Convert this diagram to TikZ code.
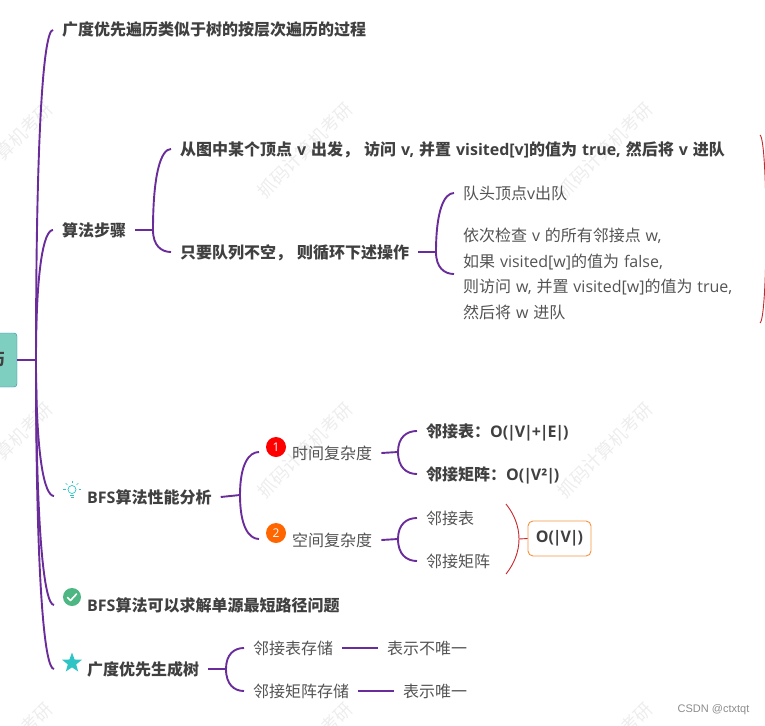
\documentclass[tikz,border=0pt]{standalone}
\usepackage{fontspec}
\setmainfont{Noto Sans CJK SC}[WordSpace=1.35]
\newfontfamily\lat{Open Sans}
\newfontfamily\signfont{Liberation Sans}
\usetikzlibrary{calc,shapes.geometric}
\definecolor{branchpurple}{HTML}{6A2C9A}
\definecolor{textgray}{HTML}{404040}
\definecolor{rootteal}{HTML}{7FCFC0}
\definecolor{rootblue}{HTML}{2E86AB}
\definecolor{bracered}{HTML}{C8282D}
\definecolor{boxorange}{HTML}{F39241}
\definecolor{okgreen}{HTML}{4CB782}
\definecolor{starteal}{HTML}{2EC4C6}
\tikzset{
  branch/.style={draw=branchpurple, line width=1.9pt},
  redline/.style={draw=bracered, line width=0.9pt},
  boldtext/.style={anchor=west, inner xsep=9pt, inner ysep=0pt, text height=15pt, text depth=3pt, text=textgray, font=\fontsize{16}{16}\selectfont\bfseries},
  plaintext/.style={anchor=west, inner xsep=9pt, inner ysep=0pt, text height=15pt, text depth=3pt, text=textgray!90, font=\fontsize{16}{16}\selectfont},
  numdot/.style={circle, inner sep=0pt, minimum size=20pt, text=white, font=\lat\fontsize{12}{12}\selectfont},
  watermark/.style={rotate=45, text=black!7, font=\fontsize{18}{18}\selectfont}
}
% curve from a junction up or down to the start of a child
\newcommand{\branchcurve}[2]{
  \draw[branch] (#1) .. controls ($(#1)!.7!(#1 |- #2)$) and ($(#2)!.55!(#1 |- #2)$) .. (#2);
}
% the bars of the O(...) labels sit closer than the font sets them
\newcommand{\vb}{\kern-.07em|\kern-.07em}
\begin{document}
\begin{tikzpicture}[x=1pt,y=-1pt]
\path[use as bounding box] (0,0) rectangle (765,725);
\clip (0,0) rectangle (765,725);
% Watermark grid
\foreach \wx in {5,305,605}
  \foreach \wy in {150,450,750}
    \node[watermark] (wm\wx\wy) at (\wx,\wy) {抓码计算机考研};
% Root, cut by the left edge
\node[draw=rootblue, fill=rootteal, rounded corners=3pt, minimum width=40pt, minimum height=54pt, inner sep=0pt,
  text=textgray, font=\fontsize{16}{16}\selectfont\bfseries] (root) at (-3,360) {历};
\coordinate (rootj) at (36,360);
% First level
\node[boldtext] (intro) at (53,30) {广度优先遍历类似于树的按层次遍历的过程};
\node[boldtext] (steps) at (53,230) {算法步骤};
\coordinate (perf) at (54,496);
\node[boldtext] (perft) at (78,497) {{\lat BFS}算法性能分析};
\coordinate (short) at (54,605);
\node[boldtext] (shortt) at (78,605) {{\lat BFS}算法可以求解单源最短路径问题};
\coordinate (tree) at (54,669);
\node[boldtext] (treet) at (78,669) {广度优先生成树};
\draw[branch, line width=2.2pt] (root.east) -- (rootj);
\branchcurve{rootj}{intro.west}
\branchcurve{rootj}{steps.west}
\branchcurve{rootj}{perf}
\branchcurve{rootj}{short}
\branchcurve{rootj}{tree}
% Algorithm steps
\node[boldtext] (visit) at (171,149) {从图中某个顶点 {\lat v} 出发， 访问 {\lat v,} 并置 {\lat visited[v]}的值为 {\lat true,} 然后将 {\lat v} 进队};
\node[boldtext] (loop) at (171,252) {只要队列不空， 则循环下述操作};
\coordinate (stepsj) at (153,230);
\draw[branch] (steps.east) -- (stepsj);
\branchcurve{stepsj}{visit.west}
\branchcurve{stepsj}{loop.west}
\node[plaintext] (deq) at (454,193) {队头顶点{\lat v}出队};
\node[plaintext, align=left, text height=, text depth=, font=\fontsize{16}{25.5}\selectfont] (check) at (454,274) {依次检查 {\lat v} 的所有邻接点 {\lat w,}\\如果 {\lat visited[w]}的值为 {\lat false,}\\则访问 {\lat w,} 并置 {\lat visited[w]}的值为 {\lat true,}\\然后将 {\lat w} 进队};
\coordinate (loopj) at (436,252);
\draw[branch] (loop.east) -- (loopj);
\branchcurve{loopj}{deq.west}
\branchcurve{loopj}{check.west}
% Red bracket at the right edge
\coordinate (rba) at (760,135);
\coordinate (rbb) at (760,323);
\draw[redline] (rba) .. controls (768,140) and (768,318) .. (rbb);
% Performance
\coordinate (perfj) at (240,495);
\draw[branch] (perft.east) -- (perfj);
\coordinate (time) at (259,452);
\coordinate (space) at (259,539);
\branchcurve{perfj}{time}
\branchcurve{perfj}{space}
\node[numdot, fill=red] (one) at (276,447) {1};
\node[numdot, fill=orange!80!red] (two) at (276,533) {2};
\node[plaintext] (timet) at (283,453) {时间复杂度};
\node[plaintext] (spacet) at (283,540) {空间复杂度};
\coordinate (timej) at (398,452);
\coordinate (spacej) at (398,539);
\draw[branch] (timet.east) -- (timej);
\draw[branch] (spacet.east) -- (spacej);
\node[boldtext] (ta) at (417,431) {邻接表：{\lat O(\vb V\vb+\vb E\vb)}};
\node[boldtext] (tb) at (417,474) {邻接矩阵：{\lat O(\vb V²\vb)}};
\node[plaintext] (sa) at (417,518) {邻接表};
\node[plaintext] (sb) at (417,561) {邻接矩阵};
\branchcurve{timej}{ta.west}
\branchcurve{timej}{tb.west}
\branchcurve{spacej}{sa.west}
\branchcurve{spacej}{sb.west}
% Bracket and result box
\coordinate (sba) at (506,504);
\coordinate (sbb) at (506,574);
\coordinate (sbm) at (519,539);
\draw[redline] (sba) .. controls (514,514) and (519,526) .. (sbm) .. controls (519,552) and (514,564) .. (sbb);
\node[draw=boxorange, line width=0.9pt, rounded corners=5pt, minimum width=63pt, minimum height=35pt, inner sep=0pt,
  text=textgray, font=\lat\fontsize{16}{16}\selectfont\bfseries] (result) at (559.5,538.5) {O(\vb V\vb)};
\draw[redline] (sbm) -- (result.west);
% Spanning tree
\coordinate (treej) at (226,669);
\draw[branch] (treet.east) -- (treej);
\node[plaintext] (la) at (244,648) {邻接表存储};
\node[plaintext] (ma) at (244,691) {邻接矩阵存储};
\branchcurve{treej}{la.west}
\branchcurve{treej}{ma.west}
\node[plaintext] (lb) at (378,648) {表示不唯一};
\node[plaintext] (mb) at (394,691) {表示唯一};
\draw[branch] (la.east) -- (lb.west);
\draw[branch] (ma.east) -- (mb.west);
% Icons
\node[star, star points=5, star point ratio=2.4, fill=starteal, inner sep=0pt, minimum size=21pt] (staricon) at (72,663) {};
\node[circle, fill=okgreen, inner sep=0pt, minimum size=18pt] (okicon) at (72,597) {};
\draw[white, line width=1.6pt, line cap=round, line join=round] (67.5,597.5) -- (70.5,600.5) -- (76.5,594);
\node[circle, draw=starteal, line width=0.7pt, inner sep=0pt, minimum size=8pt] (bulb) at (72,489.5) {};
\draw[starteal, line width=1pt] (70,495) -- (74,495) (70.5,497) -- (73.5,497);
\foreach \a in {180,225,270,315,360}
  \draw[starteal, line width=0.6pt] (bulb.center) ++(\a:6.5) -- ++(\a:2.5);
% Signature
\node[text=black!45, font=\signfont\fontsize{11}{11}\selectfont] (sign) at (713.5,710) {CSDN @ctxtqt};
\end{tikzpicture}
\end{document}
